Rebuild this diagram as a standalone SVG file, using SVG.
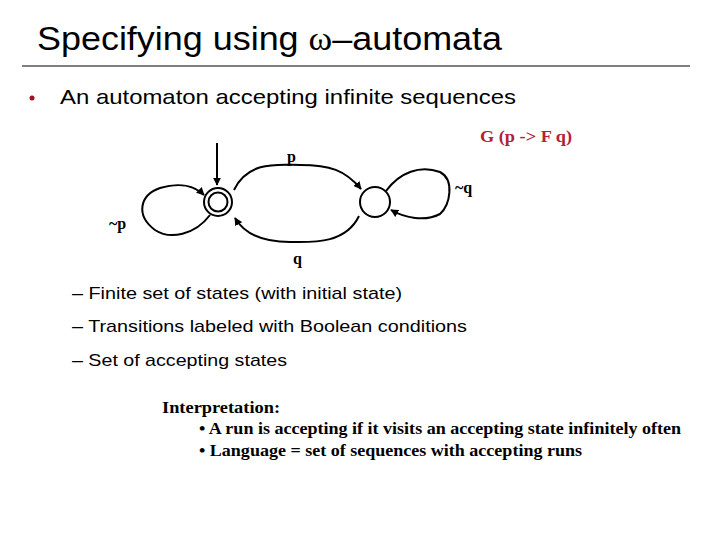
<svg xmlns="http://www.w3.org/2000/svg" width="720" height="540" viewBox="0 0 720 540">
<style>
.s{font-family:"Liberation Sans",Arial,sans-serif;fill:#000}
.t{font-family:"Liberation Serif","Times New Roman",serif;font-weight:bold;fill:#000}
.e{fill:none;stroke:#000;stroke-width:2}
</style>
<defs><marker id="a" viewBox="0 0 10 10" refX="9" refY="5" markerWidth="4" markerHeight="4" orient="auto"><path d="M0,0L10,5L0,10z" fill="#000"/></marker></defs>
<rect width="720" height="540" fill="#fff"/>
<text class="s" x="37" y="50" font-size="33" textLength="465" lengthAdjust="spacingAndGlyphs">Specifying using <tspan font-family="Liberation Serif,serif">ω</tspan>–automata</text>
<line x1="22" y1="66" x2="690" y2="66" stroke="#000" stroke-width="1"/>
<circle cx="32" cy="98" r="2.5" fill="#a01020"/>
<text class="s" x="60" y="104" font-size="21" textLength="456" lengthAdjust="spacingAndGlyphs">An automaton accepting infinite sequences</text>
<g id="edges">
<path class="e" d="M217,143 L217,185" marker-end="url(#a)"/>
<path class="e" d="M234,190 C248,160 280,165 300,165 C330,165 345,170 361,189" marker-end="url(#a)"/>
<path class="e" d="M359,216 C345,245 310,242 290,242 C265,242 245,235 235,218" marker-end="url(#a)"/>
<path class="e" d="M210,215 C195,235 170,240 155,230 C135,215 140,195 160,188 C180,182 195,186 204,195" marker-end="url(#a)"/>
<path class="e" d="M386,191 C400,172 420,165 440,172 C455,180 450,205 440,214 C425,222 405,218 391,210" marker-end="url(#a)"/>
</g>
<g id="n0"><circle cx="218" cy="202" r="14" fill="#fff" stroke="#000" stroke-width="2"/><circle cx="218" cy="202" r="9.5" fill="none" stroke="#000" stroke-width="2"/></g>
<g id="n1"><circle cx="375" cy="202" r="15" fill="#fff" stroke="#000" stroke-width="2"/></g>
<text class="t" x="287" y="162" font-size="16">p</text>
<text class="t" x="455" y="193" font-size="16">~q</text>
<text class="t" x="109" y="229" font-size="16">~p</text>
<text class="t" x="293" y="264" font-size="16">q</text>
<text class="t" x="480" y="142" font-size="16" style="fill:#b3203a" textLength="92" lengthAdjust="spacingAndGlyphs">G (p -&gt; F q)</text>
<text class="s" x="72" y="299" font-size="17" textLength="330" lengthAdjust="spacingAndGlyphs">– Finite set of states (with initial state)</text>
<text class="s" x="72" y="332" font-size="17" textLength="395" lengthAdjust="spacingAndGlyphs">– Transitions labeled with Boolean conditions</text>
<text class="s" x="72" y="366" font-size="17" textLength="215" lengthAdjust="spacingAndGlyphs">– Set of accepting states</text>
<text class="t" x="162" y="413" font-size="16" textLength="118" lengthAdjust="spacingAndGlyphs">Interpretation:</text>
<text class="t" x="199" y="434" font-size="16" textLength="482" lengthAdjust="spacingAndGlyphs">• A run is accepting if it visits an accepting state infinitely often</text>
<text class="t" x="199" y="456" font-size="16" textLength="383" lengthAdjust="spacingAndGlyphs">• Language = set of sequences with accepting runs</text>
</svg>
